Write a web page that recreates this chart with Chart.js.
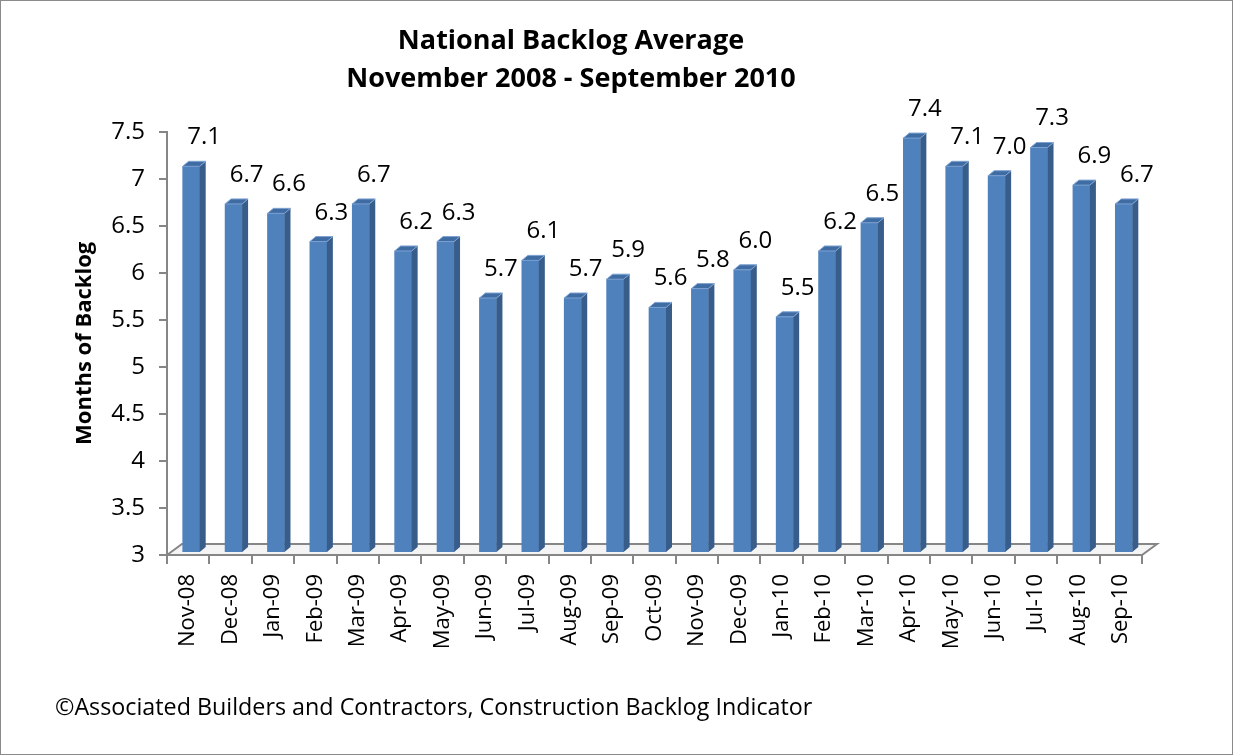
<!DOCTYPE html>
<html>
<head>
<meta charset="utf-8">
<script src="https://cdn.jsdelivr.net/npm/chart.js@4/dist/chart.umd.min.js"></script>
<style>
  html, body { margin: 0; padding: 0; background: #fff; }
  #wrap { position: relative; width: 1233px; height: 755px; }
  #frame { position: absolute; left: 0; top: 0; width: 1233px; height: 755px; box-sizing: border-box; border: 1px solid #8a8a8a; pointer-events: none; }
  #note { position: absolute; left: 55px; top: 690px; font-family: 'Open Sans', sans-serif; font-size: 23.3px; color: #000; white-space: nowrap; }
</style>
</head>
<body>
<div id="wrap">
  <canvas id="backlogChart" width="1233" height="755"></canvas>
  <div id="note">©Associated Builders and Contractors, Construction Backlog Indicator</div>
  <div id="frame"></div>
</div>
<script>
// Chart data
var months = ['Nov-08', 'Dec-08', 'Jan-09', 'Feb-09', 'Mar-09', 'Apr-09', 'May-09', 'Jun-09',
  'Jul-09', 'Aug-09', 'Sep-09', 'Oct-09', 'Nov-09', 'Dec-09', 'Jan-10', 'Feb-10', 'Mar-10',
  'Apr-10', 'May-10', 'Jun-10', 'Jul-10', 'Aug-10', 'Sep-10'];
var backlog = [7.1, 6.7, 6.6, 6.3, 6.7, 6.2, 6.3, 5.7, 6.1, 5.7, 5.9, 5.6, 5.8, 6.0, 5.5, 6.2,
  6.5, 7.4, 7.1, 7.0, 7.3, 6.9, 6.7];
var yTicks = [3, 3.5, 4, 4.5, 5, 5.5, 6, 6.5, 7, 7.5];

var FONT = "'Open Sans', sans-serif";
var AXIS_GRAY = '#868686';

// Fake 3D look: floor, side and top faces of each bar, value labels
var pseudo3d = {
  id: 'pseudo3d',
  beforeDatasetsDraw: function(chart) {
    var ctx = chart.ctx;
    var a = chart.chartArea;
    // floor
    ctx.save();
    ctx.beginPath();
    ctx.moveTo(a.left, a.bottom);
    ctx.lineTo(a.left + 15, a.bottom - 11);
    ctx.lineTo(a.right + 15, a.bottom - 11);
    ctx.lineTo(a.right, a.bottom);
    ctx.closePath();
    ctx.fillStyle = '#f4f4f4';
    ctx.fill();
    ctx.strokeStyle = AXIS_GRAY;
    ctx.lineWidth = 2;
    ctx.stroke();
    ctx.restore();
    // push bars into the middle of the floor depth
    ctx.save();
    ctx.translate(3, -3);
  },
  afterDatasetsDraw: function(chart) {
    var ctx = chart.ctx;
    var a = chart.chartArea;
    var meta = chart.getDatasetMeta(0);
    var dx = 6, dy = 5;
    meta.data.forEach(function(bar) {
      var p = bar.getProps(['x', 'y', 'width'], true);
      var l = p.x - p.width / 2;
      var r = p.x + p.width / 2;
      var base = a.bottom;
      // side
      ctx.beginPath();
      ctx.moveTo(r, p.y);
      ctx.lineTo(r + dx, p.y - dy);
      ctx.lineTo(r + dx, base - dy);
      ctx.lineTo(r, base);
      ctx.closePath();
      ctx.fillStyle = '#385d8a';
      ctx.fill();
      // top
      ctx.beginPath();
      ctx.moveTo(l, p.y);
      ctx.lineTo(l + dx, p.y - dy);
      ctx.lineTo(r + dx, p.y - dy);
      ctx.lineTo(r, p.y);
      ctx.closePath();
      ctx.fillStyle = '#3f6ca3';
      ctx.fill();
      ctx.strokeStyle = '#7da2d2';
      ctx.lineWidth = 1;
      ctx.stroke();
    });
    ctx.restore();

    // value labels
    ctx.save();
    ctx.font = '24px ' + FONT;
    ctx.fillStyle = '#000';
    ctx.textAlign = 'center';
    ctx.textBaseline = 'alphabetic';
    meta.data.forEach(function(bar, i) {
      var p = bar.getProps(['x', 'y'], true);
      ctx.fillText(backlog[i].toFixed(1), p.x + 16, p.y - 25);
    });
    ctx.restore();
  }
};

var ctx = document.getElementById('backlogChart').getContext('2d');
var chart = new Chart(ctx, {
  type: 'bar',
  data: {
    labels: months,
    datasets: [{
      label: 'Months of Backlog',
      data: backlog,
      backgroundColor: '#4f81bd',
      borderWidth: 0,
      barThickness: 17
    }]
  },
  options: {
    responsive: false,
    animation: false,
    layout: { padding: { left: 0, right: 91, top: 0, bottom: 0 } },
    plugins: {
      legend: { display: false },
      tooltip: { enabled: false },
      title: {
        display: true,
        text: ['National Backlog Average', 'November 2008 - September 2010'],
        color: '#000',
        font: { family: FONT, size: 27, weight: 'bold', lineHeight: 1.42 },
        padding: { top: 22, bottom: 33 }
      }
    },
    scales: {
      x: {
        afterFit: function(scale) { scale.height = 200; },
        grid: {
          offset: true,
          drawOnChartArea: false,
          tickLength: 9,
          color: AXIS_GRAY,
          lineWidth: 2
        },
        border: { color: AXIS_GRAY, width: 2 },
        ticks: {
          color: '#000',
          font: { family: FONT, size: 22 },
          minRotation: 90,
          maxRotation: 90,
          padding: 10,
          autoSkip: false
        }
      },
      y: {
        min: 3,
        max: 7.5,
        afterFit: function(scale) { scale.width = 167; },
        afterBuildTicks: function(scale) {
          scale.ticks = yTicks.map(function(v) { return { value: v }; });
        },
        grid: {
          drawOnChartArea: false,
          tickLength: 8,
          color: AXIS_GRAY,
          lineWidth: 2
        },
        border: { color: AXIS_GRAY, width: 2 },
        ticks: {
          color: '#000',
          font: { family: FONT, size: 24 },
          padding: 14,
          callback: function(v) { return String(v); }
        },
        title: {
          display: true,
          text: 'Months of Backlog',
          color: '#000',
          font: { family: FONT, size: 22, weight: 'bold' },
          padding: { top: 72 }
        }
      }
    }
  },
  plugins: [pseudo3d]
});
</script>
</body>
</html>
